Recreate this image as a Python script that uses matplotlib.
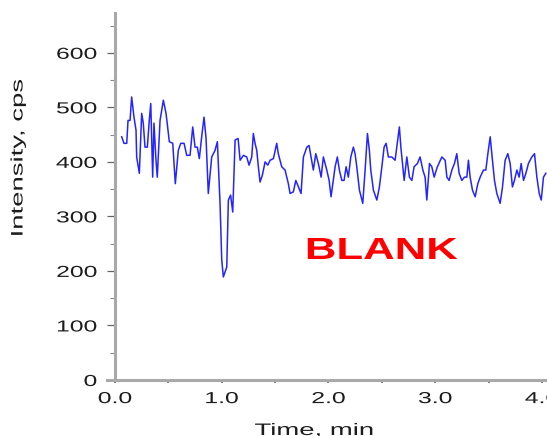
# Blank chromatogram: intensity vs. time

import matplotlib
matplotlib.use('Agg')
import matplotlib.pyplot as plt
from matplotlib.patheffects import AbstractPathEffect
from matplotlib.ticker import MultipleLocator
from matplotlib.transforms import Affine2D

# trace (time in min, intensity in cps)
time_min = [
    0.063, 0.084, 0.110, 0.122, 0.141, 0.156, 0.178, 0.197, 0.203, 0.228,
    0.250, 0.265, 0.281, 0.303, 0.321, 0.335, 0.353, 0.365, 0.384, 0.396,
    0.422, 0.453, 0.478, 0.509, 0.541, 0.565, 0.593, 0.616, 0.647, 0.672,
    0.703, 0.728, 0.750, 0.771, 0.790, 0.812, 0.834, 0.853, 0.874, 0.906,
    0.937, 0.959, 0.984, 1.000, 1.015, 1.047, 1.062, 1.083, 1.103, 1.125,
    1.153, 1.172, 1.203, 1.234, 1.256, 1.281, 1.296, 1.312, 1.328, 1.343,
    1.359, 1.381, 1.406, 1.431, 1.453, 1.484, 1.515, 1.530, 1.562, 1.593,
    1.624, 1.640, 1.671, 1.694, 1.718, 1.743, 1.765, 1.797, 1.818, 1.837,
    1.858, 1.881, 1.905, 1.931, 1.952, 1.984, 2.006, 2.024, 2.062, 2.083,
    2.102, 2.125, 2.146, 2.165, 2.186, 2.209, 2.233, 2.249, 2.265, 2.290,
    2.321, 2.343, 2.365, 2.383, 2.396, 2.421, 2.453, 2.477, 2.500, 2.521,
    2.540, 2.561, 2.593, 2.624, 2.640, 2.664, 2.678, 2.696, 2.709, 2.734,
    2.758, 2.781, 2.802, 2.833, 2.858, 2.884, 2.905, 2.921, 2.946, 2.968,
    2.990, 3.018, 3.062, 3.093, 3.109, 3.130, 3.156, 3.180, 3.202, 3.224,
    3.249, 3.274, 3.296, 3.311, 3.327, 3.349, 3.374, 3.399, 3.421, 3.452,
    3.474, 3.493, 3.515, 3.530, 3.555, 3.577, 3.608, 3.630, 3.655, 3.680,
    3.702, 3.723, 3.742, 3.765, 3.786, 3.805, 3.827, 3.849, 3.873, 3.905,
    3.930, 3.952, 3.974, 3.993, 4.014, 4.036,
]
intensity_cps = [
    446, 434, 434, 476, 476, 519, 482, 458, 409, 379,
    489, 471, 427, 427, 476, 507, 372, 471, 403, 372,
    476, 513, 489, 437, 434, 360, 421, 434, 434, 412,
    412, 464, 427, 427, 406, 446, 482, 443, 342, 409,
    421, 437, 324, 220, 189, 207, 330, 339, 308, 440,
    443, 403, 412, 409, 394, 409, 452, 434, 421, 391,
    363, 376, 400, 394, 403, 406, 434, 415, 391, 385,
    360, 342, 345, 366, 354, 342, 409, 427, 430, 409,
    385, 415, 397, 372, 409, 385, 366, 336, 391, 409,
    385, 366, 366, 391, 372, 409, 427, 415, 391, 348,
    324, 385, 452, 421, 385, 348, 330, 354, 391, 427,
    434, 409, 409, 403, 427, 464, 427, 391, 366, 409,
    372, 366, 391, 397, 409, 385, 372, 330, 397, 391,
    372, 390, 409, 403, 372, 366, 385, 397, 415, 379,
    366, 372, 372, 403, 372, 348, 336, 360, 372, 385,
    385, 415, 446, 415, 366, 342, 324, 354, 403, 415,
    397, 354, 366, 385, 372, 397, 366, 379, 397, 409,
    415, 372, 342, 330, 372, 379,
]
y_ticks = [0, 100, 200, 300, 400, 500, 600]
x_ticks = [0.0, 1.0, 2.0, 3.0, 4.0]
x_labels = ['0.0', '1.0', '2.0', '3.0', '4.0']


class Stretch(AbstractPathEffect):
    """widen glyphs along one axis, kept fixed at left/center/right"""

    def __init__(self, sx=1.0, sy=1.0, anchor='center'):
        super().__init__()
        self.sx, self.sy, self.anchor = sx, sy, anchor

    def draw_path(self, renderer, gc, tpath, affine, rgbFace=None):
        ext = tpath.get_extents(affine)
        if self.anchor == 'right':
            cx = ext.x1
        elif self.anchor == 'left':
            cx = ext.x0
        else:
            cx = (ext.x0 + ext.x1) / 2
        cy = (ext.y0 + ext.y1) / 2
        t = affine + Affine2D().translate(-cx, -cy).scale(self.sx, self.sy).translate(cx, cy)
        renderer.draw_path(gc, tpath, t, rgbFace)


plt.rcParams['font.family'] = ['Liberation Sans', 'DejaVu Sans']

W, H = 547, 436
fig = plt.figure(figsize=(W / 100, H / 100), dpi=100)
ax = fig.add_axes([115 / W, 56 / H, (W - 115) / W, 367 / H])

ax.plot(time_min, intensity_cps, color='#2424ff', lw=1.1)

ax.set_xlim(0, 4.047)
ax.set_ylim(0, 673)

for side in ['top', 'right']:
    ax.spines[side].set_visible(False)
for side in ['left', 'bottom']:
    ax.spines[side].set_color('#a9a9a9')
    ax.spines[side].set_linewidth(2.2)
ax.spines['bottom'].set_bounds(-0.075, 4.047)

ax.set_yticks(y_ticks)
ax.yaxis.set_minor_locator(MultipleLocator(50))
ax.set_xticks(x_ticks)
ax.set_xticklabels(x_labels)
ax.xaxis.set_minor_locator(MultipleLocator(0.5))

ax.tick_params(axis='y', which='major', length=6, width=0.9, color='#666666',
               pad=7, labelsize=11.5, labelcolor='#1c1c1c')
ax.tick_params(axis='y', which='minor', length=3.6, width=0.8, color='#8a8a8a')
ax.tick_params(axis='x', which='both', length=2, width=1.2, color='#666666',
               pad=6, labelsize=11.5, labelcolor='#1c1c1c')

for lab in ax.get_yticklabels():
    lab.set_path_effects([Stretch(sx=1.55, anchor='right')])
for lab in ax.get_xticklabels():
    lab.set_path_effects([Stretch(sx=1.55)])

fig.text(18 / W, 1 - 158 / H, 'Intensity, cps', rotation=90, ha='center', va='center',
         fontsize=12, color='#1c1c1c', path_effects=[Stretch(sy=1.65)])
fig.text(314 / W, 1 - 423 / H, 'Time, min', ha='center', va='top',
         fontsize=12, color='#1c1c1c', path_effects=[Stretch(sx=1.65)])

ax.text(381.5 / W, 1 - 251 / H, 'BLANK', transform=fig.transFigure, ha='center',
        va='center', fontsize=22, fontweight='bold', color='#ff0000',
        path_effects=[Stretch(sx=1.43)])

fig.savefig('out.png', dpi=100)
